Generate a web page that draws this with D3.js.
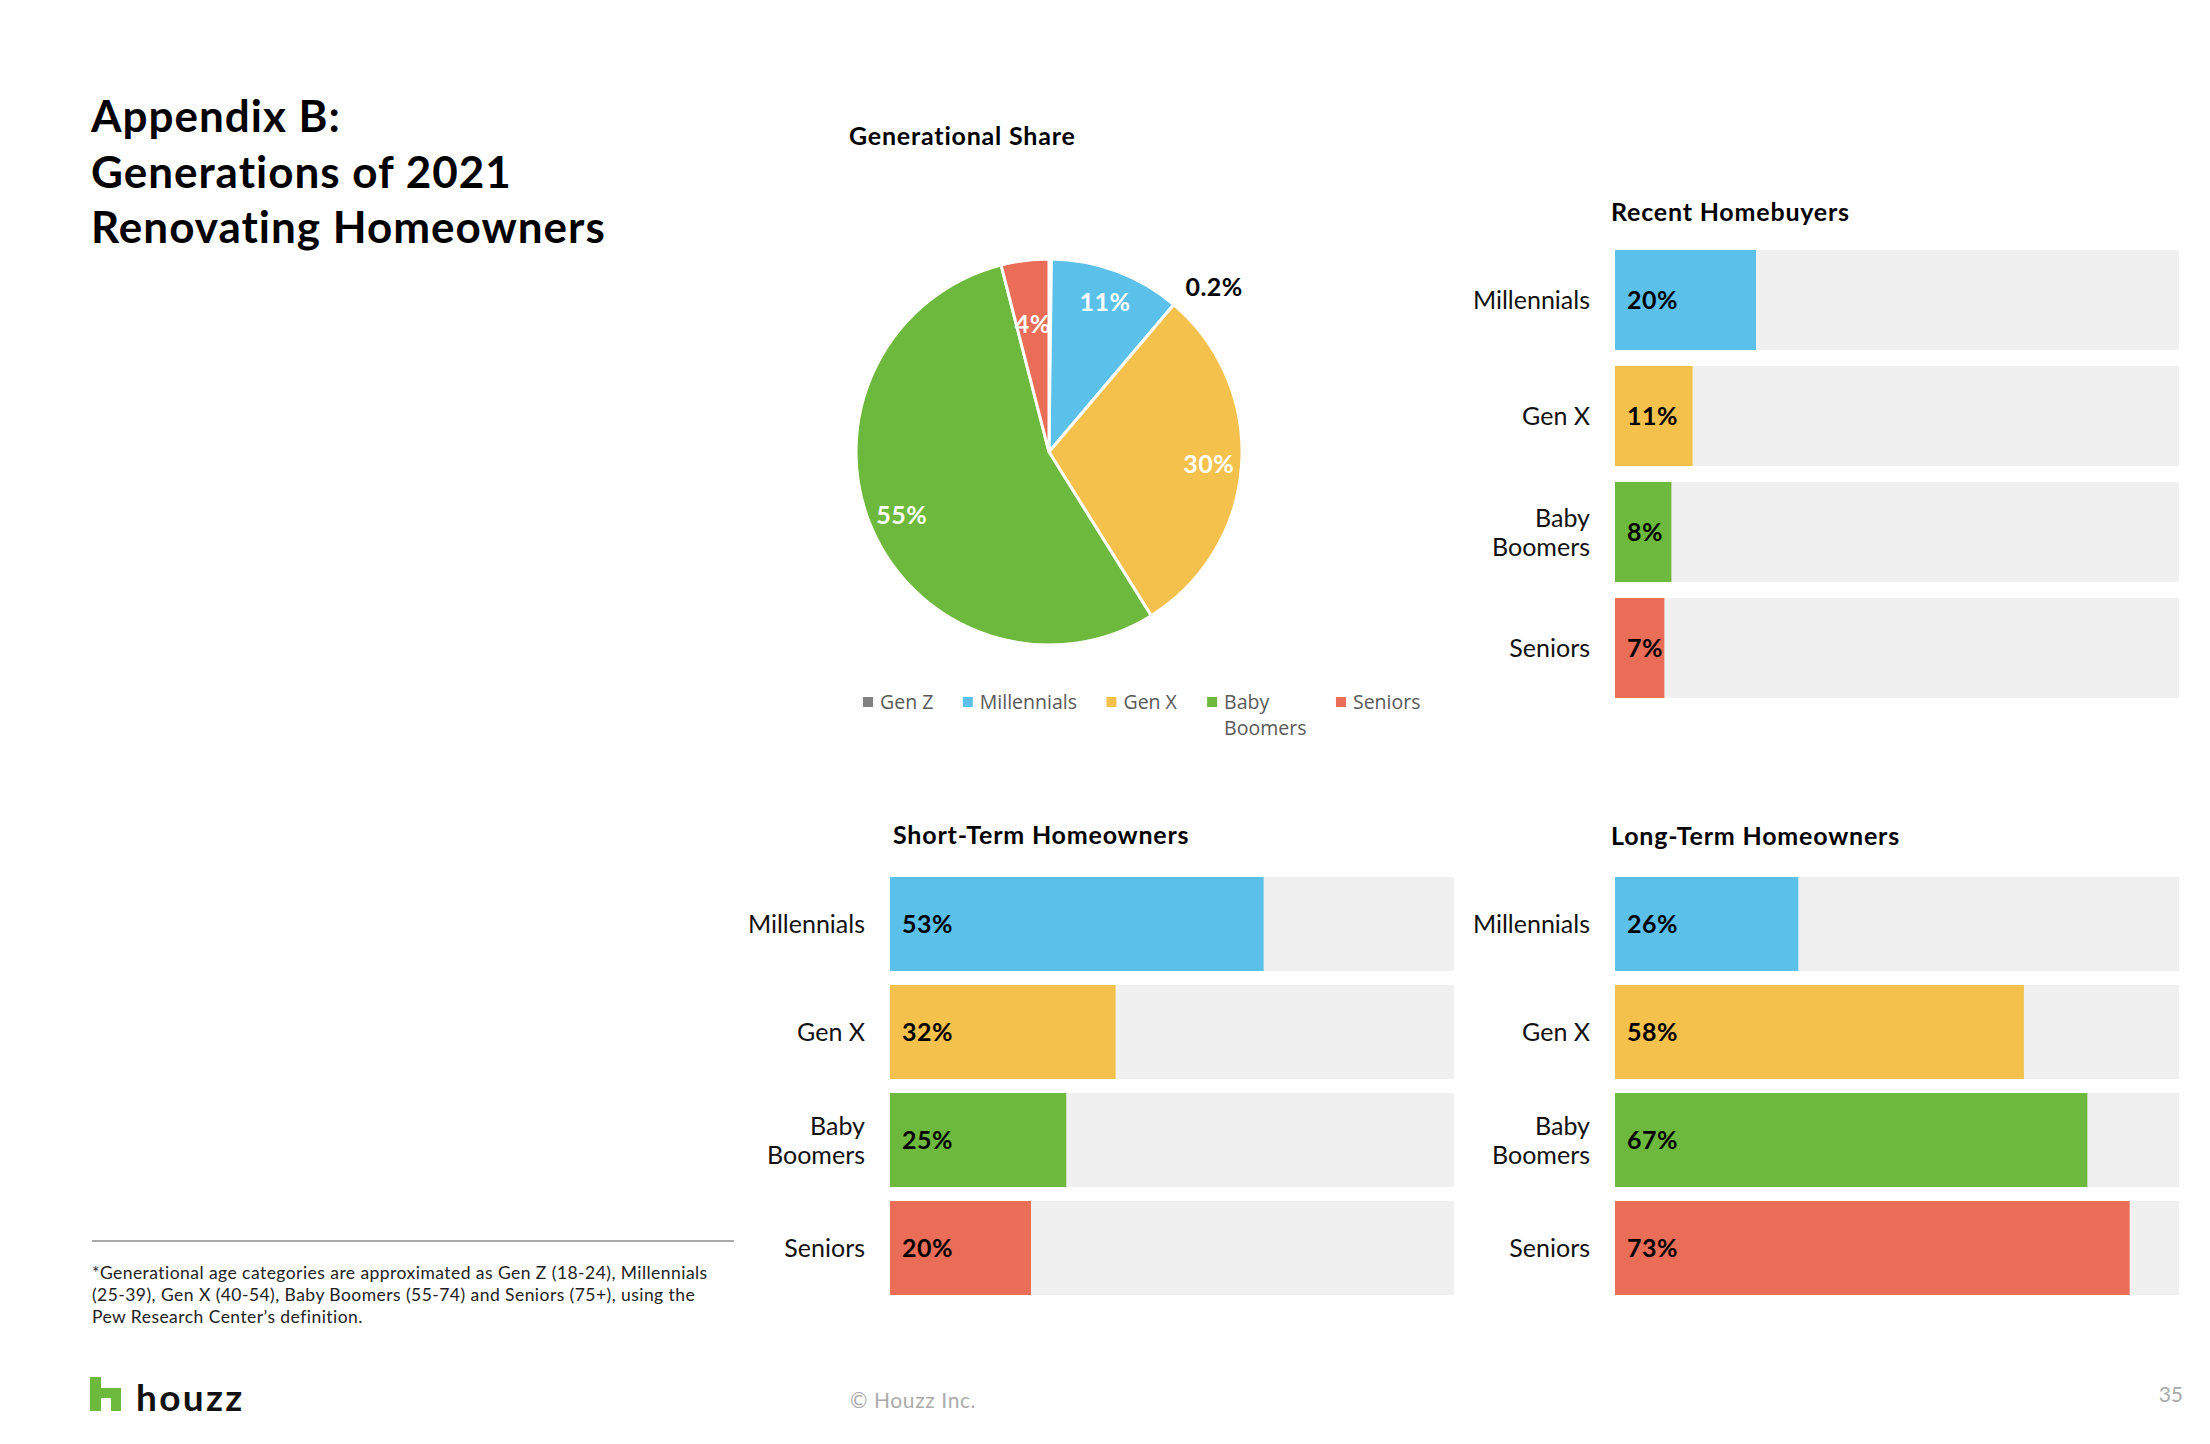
<!DOCTYPE html>
<html>
<head>
<meta charset="utf-8">
<script src="https://cdn.jsdelivr.net/npm/d3@7"></script>
<style>
  html, body { margin: 0; padding: 0; background: #fff; }
  svg { display: block; font-family: Lato, "Open Sans", sans-serif; }
</style>
</head>
<body>
<svg id="canvas" width="2210" height="1444"></svg>
<script>
// data
const generations = ["Gen Z", "Millennials", "Gen X", "Baby Boomers", "Seniors"];
const genColors = ["#808080", "#5bc0ea", "#f4c14d", "#6db93d", "#ea6d57"];
const shareValues = [0.2, 11, 30, 55, 4];
const shareLabels = ["0.2%", "11%", "30%", "55%", "4%"];

const barCategories = ["Millennials", "Gen X", "Baby Boomers", "Seniors"];
const barColors = ["#5bc0ea", "#f4c14d", "#6db93d", "#ea6d57"];
const recentValues = [20, 11, 8, 7];
const shortTermValues = [53, 32, 25, 20];
const longTermValues = [26, 58, 67, 73];
const axisMax = 80; // the grey track stands for 80%

const titleLines = ["Appendix B:", "Generations of 2021", "Renovating Homeowners"];
const footnoteLines = [
  "*Generational age categories are approximated as Gen Z (18-24), Millennials",
  "(25-39), Gen X (40-54), Baby Boomers (55-74) and Seniors (75+), using the",
  "Pew Research Center\u2019s definition."
];

const svg = d3.select("#canvas");

//Page title
svg.append("g").selectAll("text")
  .data(titleLines)
  .enter()
  .append("text")
  .attr("x", 91)
  .attr("y", (d, i) => 132 + i * 55.5)
  .attr("font-size", 44)
  .attr("font-weight", 700)
  .attr("letter-spacing", 1)
  .attr("fill", "#000")
  .text(d => d);

//Pie chart
const pieCx = 1049, pieCy = 452, pieR = 193;
svg.append("text")
  .attr("x", 849).attr("y", 145)
  .attr("font-size", 25).attr("font-weight", 700)
  .attr("letter-spacing", 0.8)
  .text("Generational Share");

const pie = d3.pie().sort(null).value(d => d);
const arcs = pie(shareValues);
const arc = d3.arc().innerRadius(0).outerRadius(pieR);
const pieG = svg.append("g").attr("transform", `translate(${pieCx},${pieCy})`);

pieG.selectAll("path")
  .data(arcs)
  .enter()
  .append("path")
  .attr("d", arc)
  .attr("fill", (d, i) => genColors[i])
  .attr("stroke", "#fff")
  .attr("stroke-width", 3);

pieG.selectAll("text")
  .data(arcs)
  .enter()
  .append("text")
  .attr("transform", d => {
    let p;
    if (d.value < 1) {
      // tiny slice: label pushed outside, like Excel's best fit
      const a = Math.PI / 4;
      p = [Math.sin(a) * pieR * 1.21, -Math.cos(a) * pieR * 1.21];
    } else {
      const r = d.value < 5 ? pieR * 0.67 : pieR * 0.83;
      p = d3.arc().innerRadius(r).outerRadius(r).centroid(d);
    }
    return `translate(${p[0]},${p[1]})`;
  })
  .attr("text-anchor", "middle")
  .attr("dy", "0.36em")
  .attr("font-size", 25)
  .attr("font-weight", 700)
  .attr("letter-spacing", 0.5)
  .attr("fill", d => d.value < 1 ? "#000" : "#fff")
  .text((d, i) => shareLabels[i]);

//Legend under the pie
const legend = svg.append("g").attr("font-family", "'Open Sans', sans-serif");
let lx = 863;
generations.forEach((name, i) => {
  const item = legend.append("g").attr("transform", `translate(${lx},0)`);
  item.append("rect")
    .attr("x", 0).attr("y", 697)
    .attr("width", 10).attr("height", 10)
    .attr("fill", genColors[i]);
  const words = name === "Baby Boomers" ? ["Baby", "Boomers"] : [name];
  const t = item.append("text")
    .attr("font-size", 19.5)
    .attr("fill", "#595959");
  words.forEach((w, j) => {
    t.append("tspan").attr("x", 17).attr("y", 709 + j * 26).text(w);
  });
  lx += 17 + t.node().getBBox().width + 29.5;
});

//Horizontal bar panels
const trackW = 564;
const x = d3.scaleLinear().domain([0, axisMax]).range([0, trackW]);

function drawPanel(title, values, x0, top, bottom, titleX, titleY) {
  const y = d3.scaleBand()
    .domain(barCategories)
    .range([top, bottom])
    .paddingInner(bottom - top > 430 ? 0.138 : 0.13);
  const g = svg.append("g");

  g.append("text")
    .attr("x", titleX).attr("y", titleY)
    .attr("font-size", 25).attr("font-weight", 700)
    .attr("letter-spacing", 0.8)
    .text(title);

  g.selectAll(".track")
    .data(barCategories)
    .enter()
    .append("rect")
    .attr("class", "track")
    .attr("x", x0).attr("y", d => y(d))
    .attr("width", x(axisMax)).attr("height", y.bandwidth())
    .attr("fill", "#f0f0f0");

  g.selectAll(".bar")
    .data(values)
    .enter()
    .append("rect")
    .attr("class", "bar")
    .attr("x", x0).attr("y", (d, i) => y(barCategories[i]))
    .attr("width", d => x(d)).attr("height", y.bandwidth())
    .attr("fill", (d, i) => barColors[i]);

  g.selectAll(".value")
    .data(values)
    .enter()
    .append("text")
    .attr("class", "value")
    .attr("x", x0 + 12)
    .attr("y", (d, i) => y(barCategories[i]) + y.bandwidth() / 2 + 9)
    .attr("font-size", 25).attr("font-weight", 700)
    .attr("letter-spacing", 0.5)
    .text(d => d + "%");

  g.selectAll(".cat")
    .data(barCategories)
    .enter()
    .append("text")
    .attr("class", "cat")
    .attr("text-anchor", "end")
    .attr("font-size", 25)
    .attr("fill", "#111")
    .each(function(d) {
      const words = d === "Baby Boomers" ? ["Baby", "Boomers"] : [d];
      const cy = y(d) + y.bandwidth() / 2 + 9 - (words.length - 1) * 14.5;
      words.forEach((w, j) => {
        d3.select(this).append("tspan")
          .attr("x", x0 - 25).attr("y", cy + j * 29).text(w);
      });
    });
}

drawPanel("Recent Homebuyers", recentValues, 1615, 250, 698, 1611, 221);
drawPanel("Short-Term Homeowners", shortTermValues, 890, 877, 1295, 893, 844);
drawPanel("Long-Term Homeowners", longTermValues, 1615, 877, 1295, 1611, 845);

//Footnote and footer
svg.append("line")
  .attr("x1", 92).attr("x2", 734)
  .attr("y1", 1241).attr("y2", 1241)
  .attr("stroke", "#8c8c8c").attr("stroke-width", 1.5);

svg.append("g").selectAll("text")
  .data(footnoteLines)
  .enter()
  .append("text")
  .attr("x", 92)
  .attr("y", (d, i) => 1279 + i * 22)
  .attr("font-size", 17.5)
  .attr("letter-spacing", 0.45)
  .attr("fill", "#222")
  .text(d => d);

svg.append("path")
  .attr("d", "M90,1377H101V1388H121V1411H111V1398H101V1411H90Z")
  .attr("fill", "#6db93d");
svg.append("text")
  .attr("x", 136).attr("y", 1411)
  .attr("font-size", 37).attr("font-weight", 700)
  .attr("letter-spacing", 2.3)
  .attr("fill", "#111")
  .text("houzz");

svg.append("text")
  .attr("x", 850).attr("y", 1408)
  .attr("font-size", 21)
  .attr("letter-spacing", 0.6)
  .attr("fill", "#ababab")
  .text("\u00a9 Houzz Inc.");

svg.append("text")
  .attr("x", 2183).attr("y", 1402)
  .attr("text-anchor", "end")
  .attr("font-size", 21)
  .attr("fill", "#aaa")
  .text("35");
</script>
</body>
</html>
